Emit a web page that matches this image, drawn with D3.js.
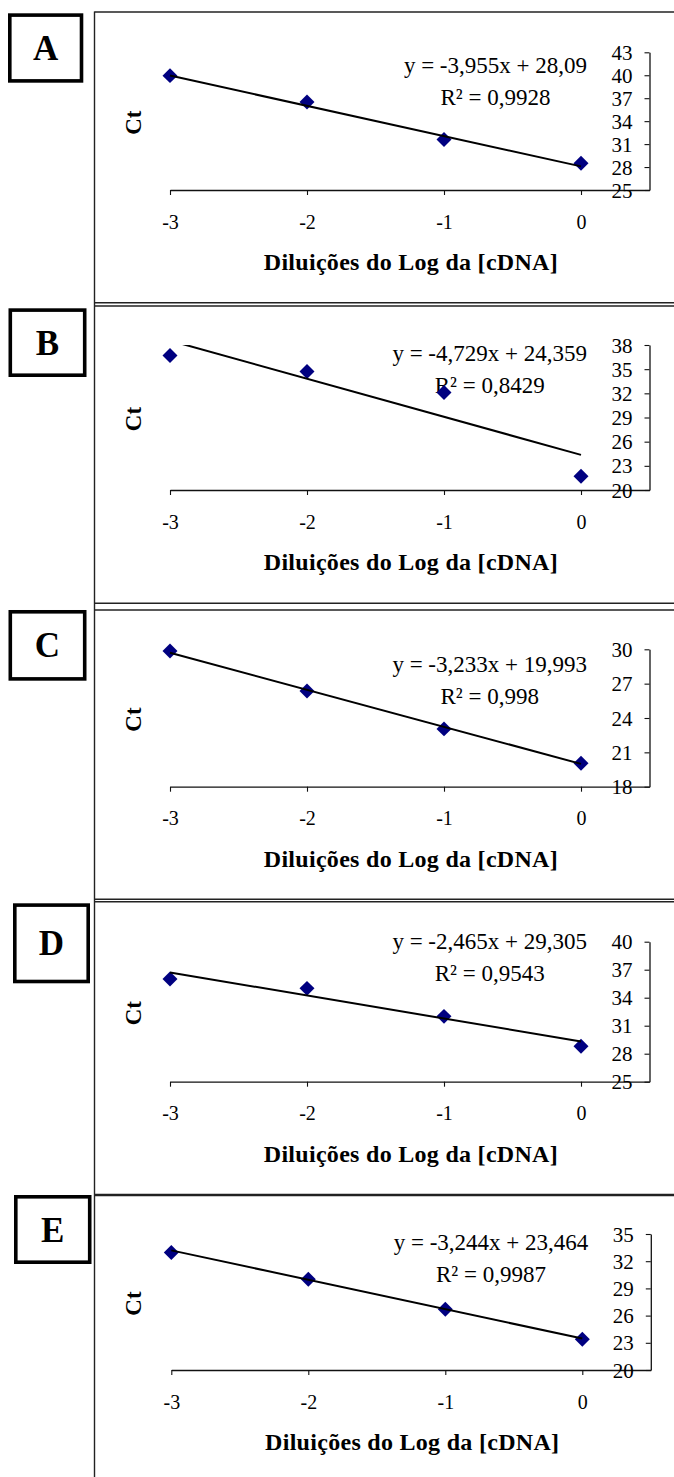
<!DOCTYPE html>
<html><head><meta charset="utf-8">
<script src="https://cdn.jsdelivr.net/npm/d3@7"></script>
<style>
body{margin:0;background:#fff}
svg{display:block}
text{font-family:"Liberation Serif","Times New Roman",serif;fill:#000}
</style>
</head><body>
<svg id="chart" width="674" height="1477"></svg>
<script>
// ---------- data ----------
const panelLetters = ["A", "B", "C", "D", "E"];
const dilutions = [-3, -2, -1, 0];
const xTickValues = [-3, -2, -1, 0];
const ctA = [39.95, 36.5, 31.6, 28.5];
const ctB = [36.7, 34.7, 32.1, 21.7];
const ctC = [29.85, 26.35, 23.05, 20.05];
const ctD = [36.0, 35.0, 32.0, 28.8];
const ctE = [32.95, 30.0, 26.7, 23.4];
const slopes = [-3.955, -4.729, -3.233, -2.465, -3.244];
const intercepts = [28.09, 24.359, 19.993, 29.305, 23.464];
const rSquared = [0.9928, 0.8429, 0.998, 0.9543, 0.9987];
const yTicksA = [25, 28, 31, 34, 37, 40, 43];
const yTicksB = [20, 23, 26, 29, 32, 35, 38];
const yTicksC = [18, 21, 24, 27, 30];
const yTicksD = [25, 28, 31, 34, 37, 40];
const yTicksE = [20, 23, 26, 29, 32, 35];
const xTitle = "Diluições do Log da [cDNA]";
const yTitle = "Ct";

const seriesList = [ctA, ctB, ctC, ctD, ctE];
const yTickList = [yTicksA, yTicksB, yTicksC, yTicksD, yTicksE];

// ---------- layout (positions only) ----------
const layout = [
  {frameTop: 12,    frameBottom: 302.7,  plotTop: 52.3,  plotBottom: 190,    eqY: 65.7,   box: [8, 13.3, 83.3, 82.7],   dx: 0},
  {frameTop: 306,   frameBottom: 603.3,  plotTop: 345,   plotBottom: 490,    eqY: 353.3,  box: [8.5, 308.3, 86.5, 377],  dx: 0},
  {frameTop: 610,   frameBottom: 899.3,  plotTop: 649.3, plotBottom: 786.7,  eqY: 664,    box: [8.5, 610, 86.5, 680.7],  dx: 0},
  {frameTop: 901.7, frameBottom: 1194.5, plotTop: 941.7, plotBottom: 1081.7, eqY: 941.7,  box: [13, 903.3, 90, 983.3],   dx: 0},
  {frameTop: 1195.5, frameBottom: null,  plotTop: 1234,  plotBottom: 1370,   eqY: 1242.3, box: [14, 1195, 91.5, 1264],   dx: 1.3}
];
const frameLeft = 94.5;
const W = 674, H = 1477;
const serif = '"Liberation Serif","Times New Roman",serif';

const svg = d3.select("#chart");
const fmt = v => String(v).replace(".", ",");

const diamond = {
  draw(ctx, size) {
    const r = Math.sqrt(size / 2);
    ctx.moveTo(0, -r); ctx.lineTo(r, 0); ctx.lineTo(0, r); ctx.lineTo(-r, 0); ctx.closePath();
  }
};

// continuous left frame line
svg.append("line").attr("x1", frameLeft).attr("x2", frameLeft)
  .attr("y1", layout[0].frameTop - 0.6).attr("y2", H)
  .attr("stroke", "#222").attr("stroke-width", 1.4);

layout.forEach((L, i) => {
  const values = seriesList[i];
  const ticks = yTickList[i];
  const g = svg.append("g");

  // frame
  g.append("line").attr("x1", frameLeft).attr("x2", W).attr("y1", L.frameTop).attr("y2", L.frameTop)
    .attr("stroke", "#222").attr("stroke-width", 1.4);
  if (L.frameBottom !== null) {
    g.append("line").attr("x1", frameLeft).attr("x2", W).attr("y1", L.frameBottom).attr("y2", L.frameBottom)
      .attr("stroke", "#222").attr("stroke-width", 1.4);
  }

  // label box
  const [bx0, by0, bx1, by1] = L.box;
  const sw = 3.6;
  g.append("rect").attr("x", bx0 + sw / 2).attr("y", by0 + sw / 2)
    .attr("width", bx1 - bx0 - sw).attr("height", by1 - by0 - sw)
    .attr("fill", "#fff").attr("stroke", "#000").attr("stroke-width", sw);
  g.append("text").attr("x", (bx0 + bx1) / 2).attr("y", (by0 + by1) / 2 + 12)
    .attr("text-anchor", "middle").attr("font-size", 35).attr("font-weight", "bold")
    .text(panelLetters[i]);

  // scales
  const x = d3.scaleLinear().domain([-3, 0.5]).range([170 + L.dx, 649.5 + L.dx]);
  const y = d3.scaleLinear().domain([d3.min(ticks), d3.max(ticks)]).range([L.plotBottom, L.plotTop]);

  // x axis
  const xAxis = g.append("g").attr("transform", `translate(0,${L.plotBottom})`)
    .call(d3.axisBottom(x).tickValues(xTickValues).tickSize(5).tickSizeOuter(0).tickFormat(d => String(d)));
  xAxis.select(".domain").attr("stroke", "#111").attr("stroke-width", 1.3);
  xAxis.selectAll(".tick line").attr("stroke", "#111").attr("stroke-width", 1.1);
  xAxis.selectAll(".tick text").attr("font-size", 20).attr("dy", null).attr("y", 38.5)
    .attr("font-family", serif).attr("fill", "#000");

  // y axis (right side, labels to the left)
  const yAxis = g.append("g").attr("transform", `translate(${x(0.5)},0)`)
    .call(d3.axisLeft(y).tickValues(ticks).tickSize(5).tickSizeOuter(0).tickFormat(d => String(d)));
  yAxis.select(".domain").attr("stroke", "#111").attr("stroke-width", 1.3);
  yAxis.selectAll(".tick line").attr("stroke", "#111").attr("stroke-width", 1.1);
  yAxis.selectAll(".tick text").attr("font-size", 21).attr("dy", null).attr("y", 7).attr("x", -17)
    .attr("font-family", serif).attr("fill", "#000");

  // axis titles
  g.append("text").attr("x", (x(-3) + x(0.5)) / 2 + 1).attr("y", L.plotBottom + 80)
    .attr("text-anchor", "middle").attr("font-size", 24).attr("font-weight", "bold")
    .attr("textLength", 294).attr("lengthAdjust", "spacing")
    .text(xTitle);
  g.append("text").attr("transform", `translate(141,${(L.plotTop + L.plotBottom) / 2 + 1.5}) rotate(-90)`)
    .attr("text-anchor", "middle").attr("font-size", 23).attr("font-weight", "bold")
    .text(yTitle);

  // equation & R²
  const eqRight = 587 + L.dx;
  const eq = g.append("text").attr("x", eqRight).attr("y", L.eqY + 7.5)
    .attr("text-anchor", "end").attr("font-size", 23)
    .text(`y = ${fmt(slopes[i])}x + ${fmt(intercepts[i])}`);
  const eqLen = eq.node().getComputedTextLength();
  g.append("text").attr("x", eqRight - eqLen / 2).attr("y", L.eqY + 39.5)
    .attr("text-anchor", "middle").attr("font-size", 23)
    .text(`R² = ${fmt(rSquared[i])}`);

  // points
  g.selectAll("path.pt").data(dilutions.map((d, k) => [d, values[k]])).enter()
    .append("path").attr("class", "pt")
    .attr("transform", d => `translate(${x(d[0])},${y(d[1])})`)
    .attr("d", d3.symbol().type(diamond).size(112))
    .attr("fill", "#000080");

  // trend line (clipped to plot area)
  const clipId = "clip" + i;
  svg.append("clipPath").attr("id", clipId).append("rect")
    .attr("x", x(-3) - 2).attr("y", L.plotTop).attr("width", x(0.5) - x(-3) + 2).attr("height", L.plotBottom - L.plotTop);
  const trend = [-3, 0].map(v => [v, slopes[i] * v + intercepts[i]]);
  g.append("path").attr("clip-path", `url(#${clipId})`)
    .attr("d", d3.line().x(d => x(d[0])).y(d => y(d[1]))(trend))
    .attr("fill", "none").attr("stroke", "#000").attr("stroke-width", 2);
});
</script>
</body></html>
